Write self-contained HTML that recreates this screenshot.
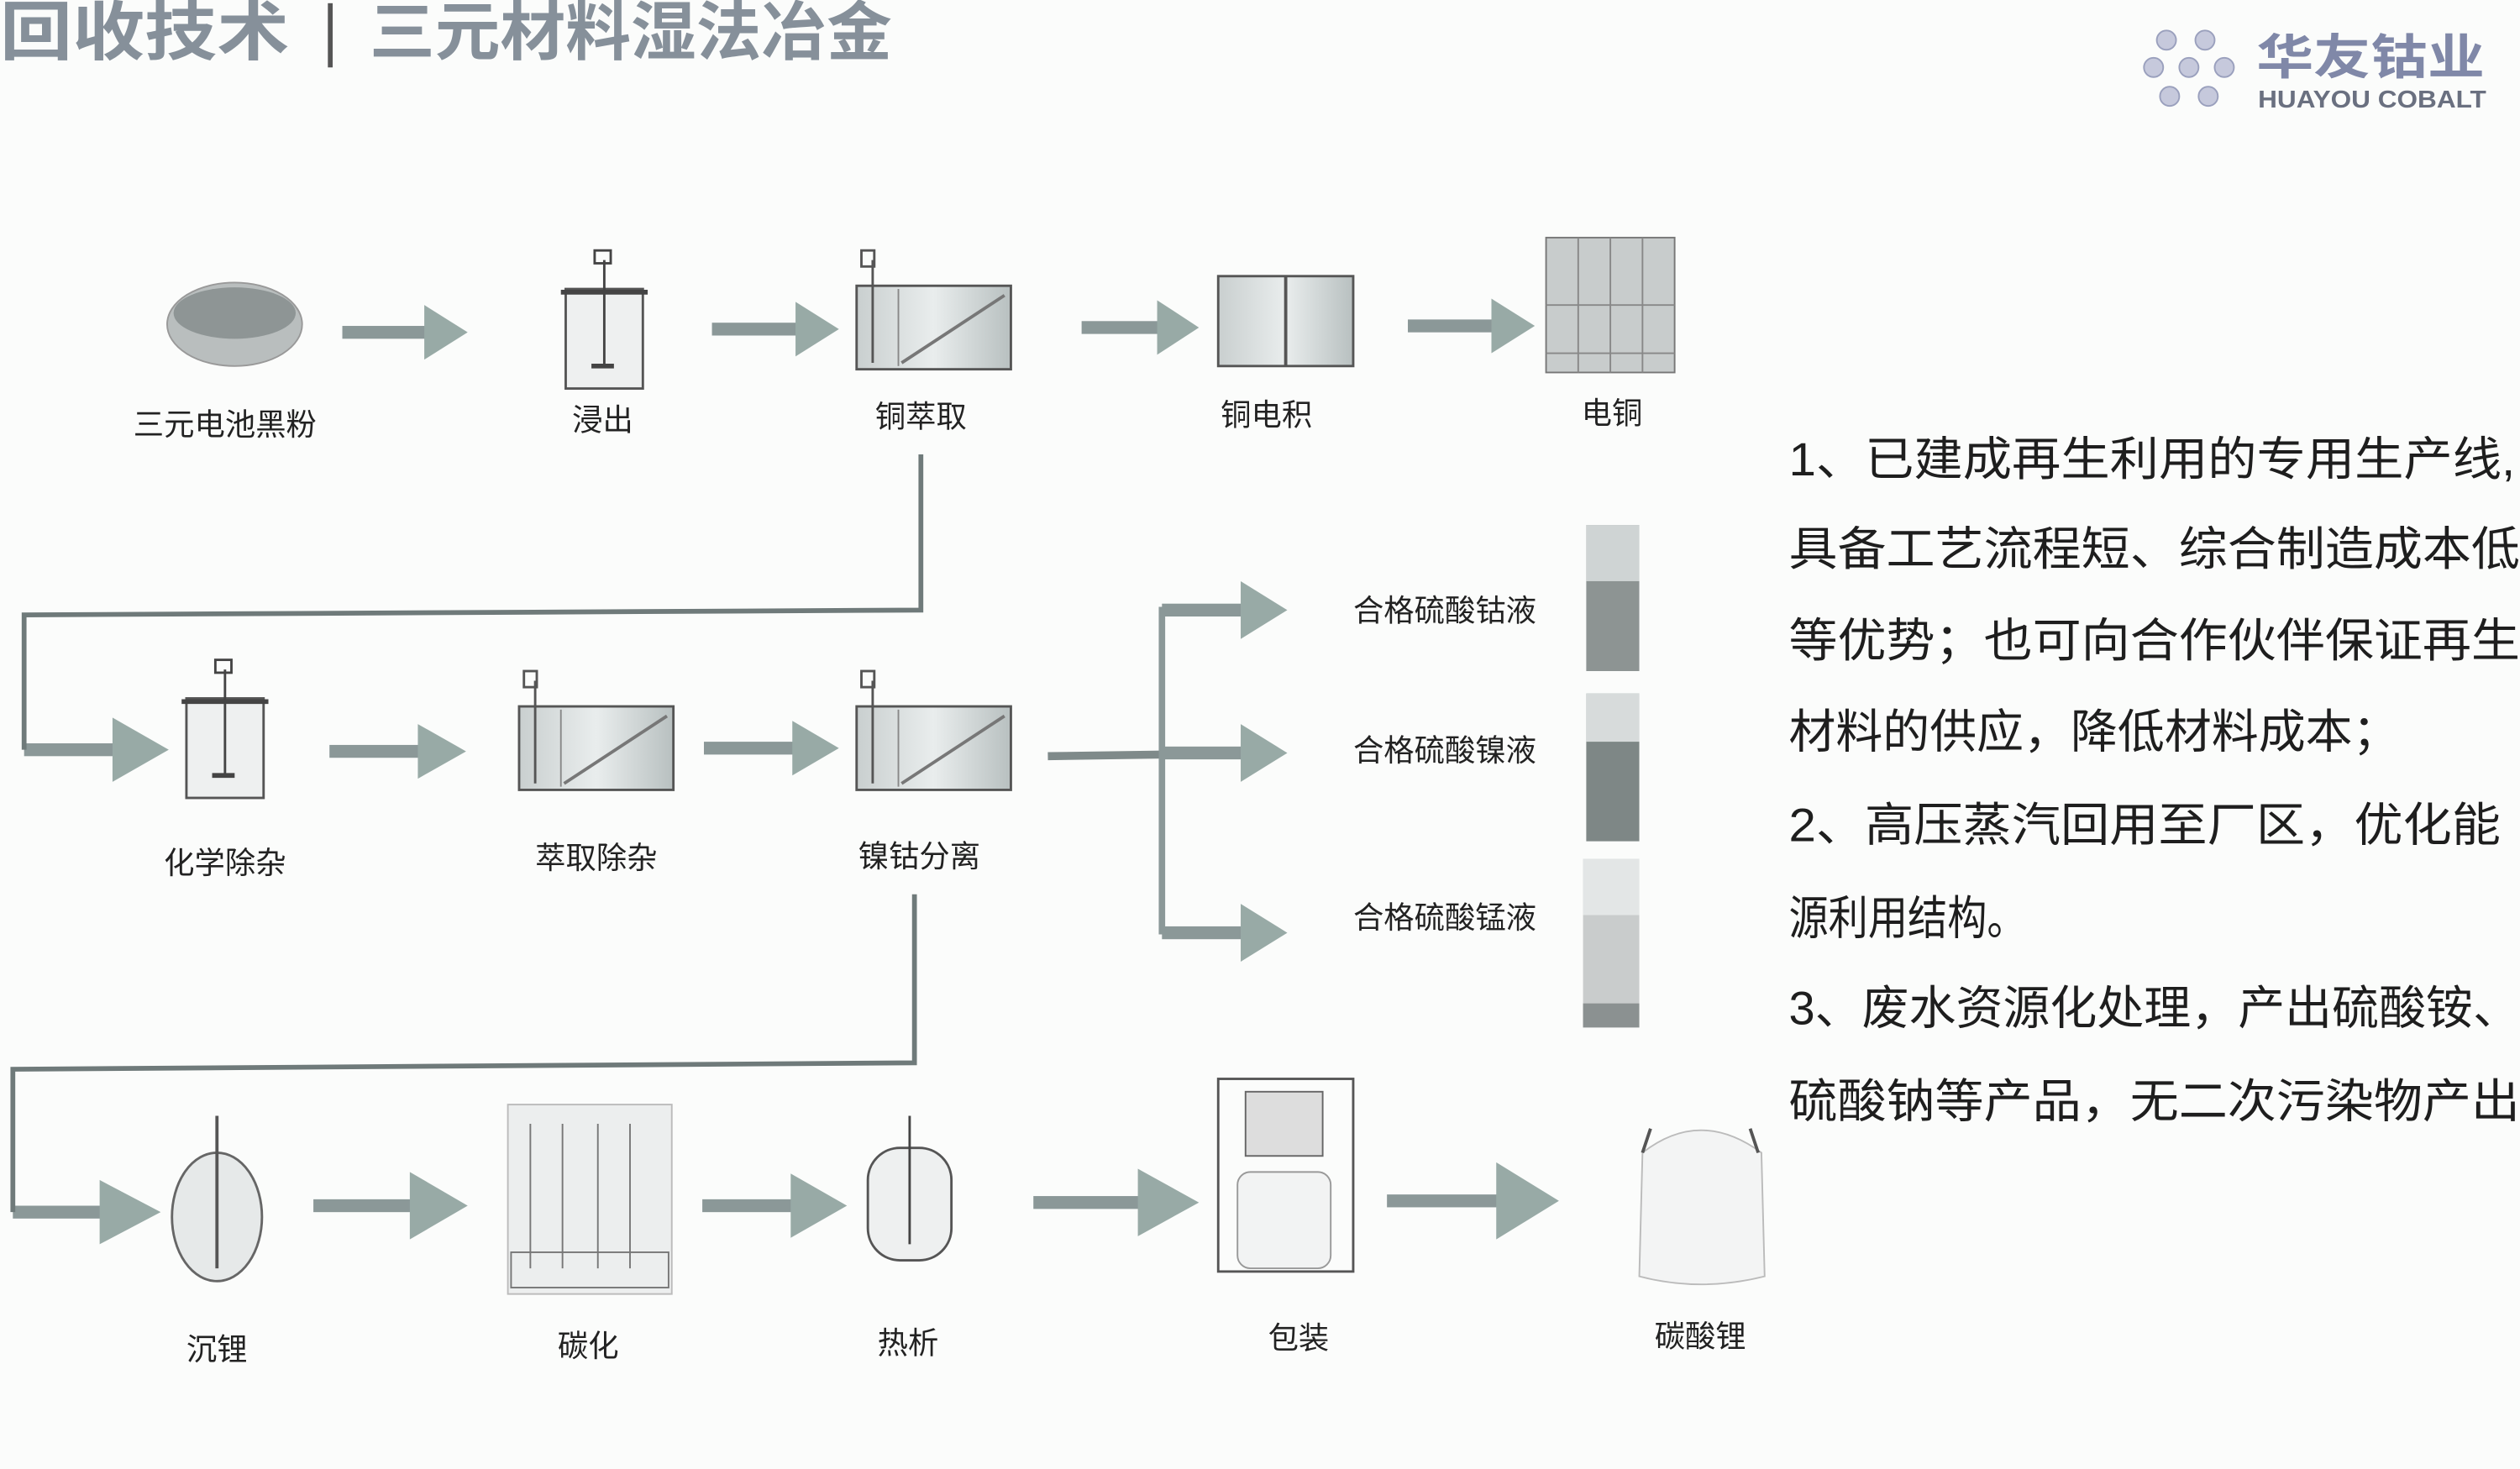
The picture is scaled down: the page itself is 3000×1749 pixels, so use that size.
<!DOCTYPE html>
<html><head><meta charset="utf-8"><style>
html,body{margin:0;padding:0;background:#fbfcfb;}
svg{display:block}
text{font-family:"Liberation Sans","Noto Sans CJK SC",sans-serif;}
</style></head><body>
<svg width="3000" height="1749" viewBox="0 0 1568 915" preserveAspectRatio="none" xmlns="http://www.w3.org/2000/svg">
<defs>
<linearGradient id="gt" x1="0" x2="1"><stop offset="0" stop-color="#c9cfcf"/><stop offset="0.5" stop-color="#e9eded"/><stop offset="1" stop-color="#b8c0c0"/></linearGradient>
<g id="ext"><rect x="0" y="0" width="96" height="52" fill="url(#gt)" stroke="#555" stroke-width="1.5"/><line x1="28" y1="48" x2="92" y2="6" stroke="#777" stroke-width="2"/><line x1="10" y1="-16" x2="10" y2="48" stroke="#555" stroke-width="1.5"/><rect x="3" y="-22" width="8" height="10" fill="none" stroke="#555" stroke-width="1.5"/><line x1="26" y1="2" x2="26" y2="50" stroke="#888"/></g>
<g id="rea"><rect x="0" y="0" width="48" height="62" fill="#eef0f0" stroke="#555" stroke-width="1.5"/><line x1="-3" y1="2" x2="51" y2="2" stroke="#444" stroke-width="3"/><line x1="24" y1="-18" x2="24" y2="48" stroke="#444" stroke-width="1.5"/><rect x="18" y="-24" width="10" height="8" fill="none" stroke="#444" stroke-width="1.5"/><line x1="16" y1="48" x2="30" y2="48" stroke="#444" stroke-width="3"/></g>
</defs>
<rect width="1568" height="915" fill="#fbfcfb"/>
<!-- title -->
<text x="0" y="34" font-size="40" font-weight="bold" fill="#86909a" textLength="180" lengthAdjust="spacingAndGlyphs">回收技术</text>
<rect x="204" y="2" width="3" height="40" fill="#555"/>
<text x="230" y="34" font-size="40" font-weight="bold" fill="#86909a" textLength="325" lengthAdjust="spacingAndGlyphs">三元材料湿法冶金</text>
<!-- logo -->
<g fill="#c6c9dc" stroke="#9aa0bd" stroke-width="1">
<circle cx="1348" cy="25" r="6"/><circle cx="1372" cy="25" r="6"/><circle cx="1340" cy="42" r="6"/><circle cx="1362" cy="42" r="6"/><circle cx="1384" cy="42" r="6"/><circle cx="1350" cy="60" r="6"/><circle cx="1374" cy="60" r="6"/></g>
<text x="1404" y="46" font-size="30" font-weight="bold" fill="#8088a8" textLength="142" lengthAdjust="spacingAndGlyphs">华友钴业</text>
<text x="1405" y="67" font-size="15" font-weight="bold" fill="#6a7080" textLength="142" lengthAdjust="spacingAndGlyphs">HUAYOU COBALT</text>

<!-- arrows: shaft + head -->
<g fill="#8b9898">
<rect x="213" y="203" width="55" height="8"/><rect x="443" y="201" width="55" height="8"/><rect x="673" y="200" width="50" height="8"/><rect x="876" y="199" width="55" height="8"/>
<rect x="205" y="464" width="60" height="8"/><rect x="438" y="462" width="60" height="8"/>
<rect x="195" y="747" width="70" height="8"/><rect x="437" y="747" width="65" height="8"/><rect x="643" y="745" width="78" height="8"/><rect x="863" y="744" width="80" height="8"/>
<rect x="15" y="463" width="65" height="8"/><rect x="8" y="751" width="62" height="8"/>
<rect x="723" y="376" width="52" height="8"/><rect x="723" y="465" width="52" height="8"/><rect x="723" y="577" width="52" height="8"/>
</g>
<g fill="#98aaa6">
<polygon points="264,190 291,207 264,224"/><polygon points="495,188 522,205 495,222"/><polygon points="720,187 746,204 720,221"/><polygon points="928,186 955,203 928,220"/>
<polygon points="260,451 290,468 260,485"/><polygon points="493,449 522,466 493,483"/>
<polygon points="255,730 291,751 255,772"/><polygon points="492,731 527,751 492,771"/><polygon points="708,728 746,749 708,770"/><polygon points="931,724 970,748 931,772"/>
<polygon points="70,447 105,467 70,487"/><polygon points="62,735 100,755 62,775"/>
<polygon points="772,362 801,380 772,398"/><polygon points="772,451 801,469 772,487"/><polygon points="772,563 801,581 772,599"/>
</g>

<!-- row1 -->
<ellipse cx="146" cy="202" rx="42" ry="26" fill="#b9bebe" stroke="#999"/>
<ellipse cx="146" cy="195" rx="38" ry="16" fill="#8e9595"/>
<use href="#rea" x="352" y="180"/>
<use href="#ext" x="533" y="178"/>
<rect x="758" y="172" width="84" height="56" fill="url(#gt)" stroke="#555" stroke-width="1.5"/><line x1="800" y1="172" x2="800" y2="228" stroke="#555" stroke-width="2"/>
<rect x="962" y="148" width="80" height="84" fill="#c8cccc" stroke="#777"/>
<g stroke="#888"><line x1="982" y1="148" x2="982" y2="232"/><line x1="1002" y1="148" x2="1002" y2="232"/><line x1="1022" y1="148" x2="1022" y2="232"/><line x1="962" y1="190" x2="1042" y2="190"/><line x1="962" y1="220" x2="1042" y2="220"/></g>
<g font-size="19" fill="#222" text-anchor="middle">
<text x="140" y="271">三元电池黑粉</text><text x="375" y="268">浸出</text><text x="573" y="266">铜萃取</text><text x="788" y="265">铜电积</text><text x="1003" y="264">电铜</text>
</g>
<!-- connector 1 -->
<polyline points="573,283 573,380 15,383 15,467" fill="none" stroke="#6f7a7a" stroke-width="3"/>
<!-- row2 -->
<use href="#rea" x="116" y="435"/>
<use href="#ext" x="323" y="440"/>
<use href="#ext" x="533" y="440"/>
<polyline points="652,471 723,470" stroke="#7f8a8a" stroke-width="5" fill="none"/>
<line x1="723" y1="378" x2="723" y2="582" stroke="#8b9898" stroke-width="4"/>
<g font-size="19" fill="#222">
<text x="842" y="387">合格硫酸钴液</text><text x="842" y="474">合格硫酸镍液</text><text x="842" y="578">合格硫酸锰液</text>
</g>
<rect x="987" y="327" width="33" height="91" fill="#8d9493"/><rect x="987" y="327" width="33" height="35" fill="#cfd4d4"/>
<rect x="987" y="432" width="33" height="92" fill="#7e8786"/><rect x="987" y="432" width="33" height="30" fill="#d7dbdb"/>
<rect x="985" y="535" width="35" height="105" fill="#c9cccc"/><rect x="985" y="535" width="35" height="35" fill="#e3e6e6"/><rect x="985" y="625" width="35" height="15" fill="#8b9191"/>
<g font-size="19" fill="#222" text-anchor="middle">
<text x="140" y="544">化学除杂</text><text x="371" y="541">萃取除杂</text><text x="572" y="540">镍钴分离</text>
</g>
<!-- connector 2 -->
<polyline points="569,557 569,662 8,666 8,755" fill="none" stroke="#6f7a7a" stroke-width="3"/>
<!-- row3 -->
<ellipse cx="135" cy="758" rx="28" ry="40" fill="#e6e9e9" stroke="#666" stroke-width="1.5"/><line x1="135" y1="695" x2="135" y2="790" stroke="#555" stroke-width="2"/>
<rect x="316" y="688" width="102" height="118" fill="#eceeee" stroke="#bbb"/>
<g stroke="#777"><line x1="330" y1="700" x2="330" y2="790"/><line x1="350" y1="700" x2="350" y2="790"/><line x1="372" y1="700" x2="372" y2="790"/><line x1="392" y1="700" x2="392" y2="790"/><rect x="318" y="780" width="98" height="22" fill="none"/></g>
<rect x="540" y="715" width="52" height="70" rx="20" fill="#eef0f0" stroke="#555" stroke-width="1.5"/><line x1="566" y1="695" x2="566" y2="775" stroke="#444" stroke-width="1.5"/>
<rect x="758" y="672" width="84" height="120" fill="none" stroke="#555" stroke-width="1.5"/><rect x="770" y="730" width="58" height="60" rx="8" fill="#f2f3f3" stroke="#999"/><rect x="775" y="680" width="48" height="40" fill="#ddd" stroke="#666"/>
<path d="M1022,718 Q1058,690 1096,718 L1098,795 Q1058,805 1020,795 Z" fill="#f3f4f4" stroke="#bbb"/>
<path d="M1022,718 l5,-15 M1094,718 l-5,-15" stroke="#555" stroke-width="2"/>
<g font-size="19" fill="#222" text-anchor="middle">
<text x="135" y="847">沉锂</text><text x="366" y="845">碳化</text><text x="565" y="843">热析</text><text x="808" y="840">包装</text><text x="1058" y="839">碳酸锂</text>
</g>
<!-- right text -->
<g font-size="29" fill="#1e1e1e">
<text x="1113" y="296" textLength="452" lengthAdjust="spacingAndGlyphs">1、已建成再生利用的专用生产线,</text>
<text x="1113" y="352" textLength="455" lengthAdjust="spacingAndGlyphs">具备工艺流程短、综合制造成本低</text>
<text x="1113" y="409" textLength="455" lengthAdjust="spacingAndGlyphs">等优势；也可向合作伙伴保证再生</text>
<text x="1113" y="466" textLength="380" lengthAdjust="spacingAndGlyphs">材料的供应，降低材料成本；</text>
<text x="1113" y="524" textLength="443" lengthAdjust="spacingAndGlyphs">2、高压蒸汽回用至厂区，优化能</text>
<text x="1113" y="582" textLength="148" lengthAdjust="spacingAndGlyphs">源利用结构。</text>
<text x="1113" y="638" textLength="455" lengthAdjust="spacingAndGlyphs">3、废水资源化处理，产出硫酸铵、</text>
<text x="1113" y="696" textLength="455" lengthAdjust="spacingAndGlyphs">硫酸钠等产品，无二次污染物产出</text>
</g>
</svg>
</body></html>
